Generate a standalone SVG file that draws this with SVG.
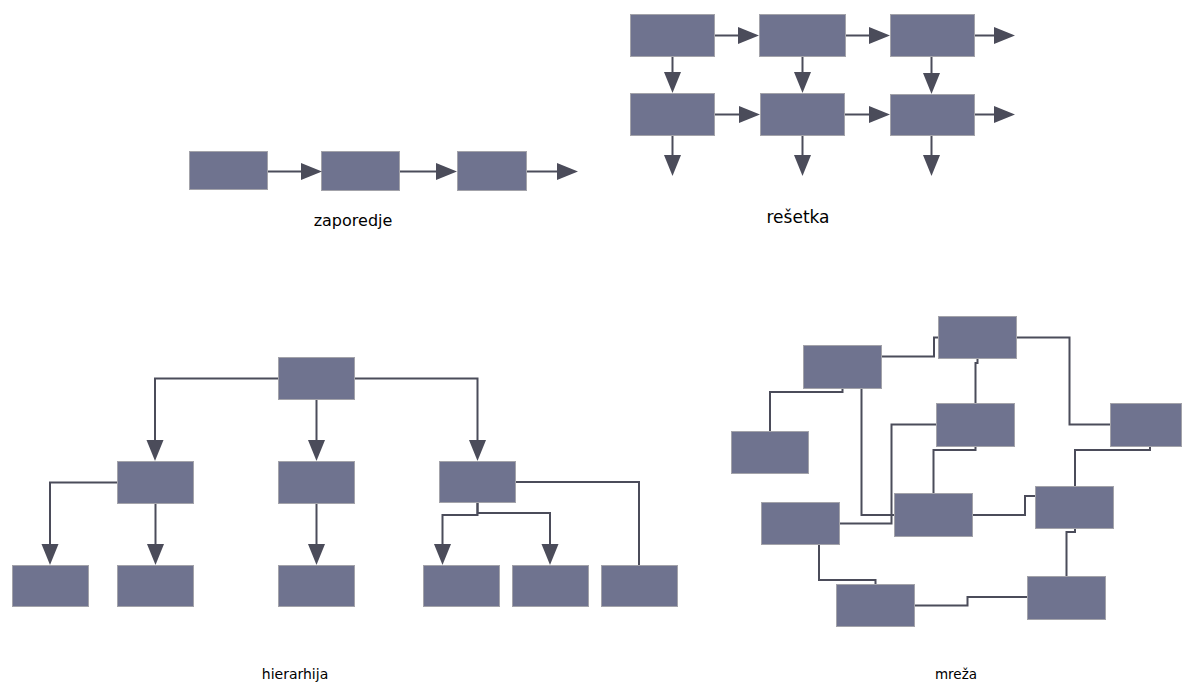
<svg xmlns="http://www.w3.org/2000/svg" width="1182" height="682" viewBox="0 0 1182 682">
  <style>
    .box { fill: #6f738f; stroke: #a3a3aa; stroke-width: 1; }
    .link { fill: none; stroke: #4b4c5a; stroke-width: 2; }
    .arrow { marker-end: url(#head); }
    .label { font-family: "DejaVu Sans", Verdana, sans-serif; fill: #000; text-anchor: middle; }
  </style>
  <defs>
    <marker id="head" markerUnits="userSpaceOnUse" markerWidth="22" markerHeight="18" refX="0" refY="8.5" orient="auto" viewBox="0 0 22 18">
      <path d="M0,0 L21,8.5 L0,17 z" fill="#4b4c5a"/>
    </marker>
  </defs>
  <rect width="1182" height="682" fill="#ffffff"/>

  <!-- zaporedje (sequence) -->
  <g id="seq-1"><rect class="box" x="189.5" y="151.5" width="78" height="38"/></g>
  <g id="seq-2"><rect class="box" x="321.5" y="151.5" width="78" height="39"/></g>
  <g id="seq-3"><rect class="box" x="457.5" y="151.5" width="69" height="39"/></g>

  <!-- rešetka (grid) -->
  <g id="grid-a1"><rect class="box" x="630.5" y="14.5" width="84" height="42"/></g>
  <g id="grid-b1"><rect class="box" x="759.5" y="14.5" width="86" height="42"/></g>
  <g id="grid-c1"><rect class="box" x="890.5" y="14.5" width="84" height="42"/></g>
  <g id="grid-a2"><rect class="box" x="630.5" y="93.5" width="84" height="42"/></g>
  <g id="grid-b2"><rect class="box" x="760.5" y="93.5" width="84" height="42"/></g>
  <g id="grid-c2"><rect class="box" x="890.5" y="94.5" width="84" height="41"/></g>

  <!-- hierarhija (hierarchy) -->
  <g id="h-root"><rect class="box" x="278.5" y="357.5" width="76" height="42"/></g>
  <g id="h-l2-1"><rect class="box" x="117.5" y="461.5" width="76" height="42"/></g>
  <g id="h-l2-2"><rect class="box" x="278.5" y="461.5" width="76" height="42"/></g>
  <g id="h-l2-3"><rect class="box" x="439.5" y="461.5" width="76" height="41"/></g>
  <g id="h-l3-1"><rect class="box" x="12.5" y="565.5" width="76" height="41"/></g>
  <g id="h-l3-2"><rect class="box" x="117.5" y="565.5" width="76" height="41"/></g>
  <g id="h-l3-3"><rect class="box" x="278.5" y="565.5" width="76" height="41"/></g>
  <g id="h-l3-4"><rect class="box" x="423.5" y="565.5" width="76" height="41"/></g>
  <g id="h-l3-5"><rect class="box" x="512.5" y="565.5" width="76" height="41"/></g>
  <g id="h-l3-6"><rect class="box" x="601.5" y="565.5" width="76" height="41"/></g>

  <!-- mreža (network) -->
  <g id="n-top"><rect class="box" x="938.5" y="316.5" width="78" height="42"/></g>
  <g id="n-upleft"><rect class="box" x="803.5" y="345.5" width="78" height="43"/></g>
  <g id="n-left"><rect class="box" x="731.5" y="431.5" width="77" height="42"/></g>
  <g id="n-mid"><rect class="box" x="936.5" y="403.5" width="78" height="43"/></g>
  <g id="n-right"><rect class="box" x="1110.5" y="403.5" width="71" height="43"/></g>
  <g id="n-lowleft"><rect class="box" x="761.5" y="502.5" width="78" height="42"/></g>
  <g id="n-lowmid"><rect class="box" x="894.5" y="493.5" width="78" height="43"/></g>
  <g id="n-lowright"><rect class="box" x="1035.5" y="486.5" width="78" height="42"/></g>
  <g id="n-bottom"><rect class="box" x="836.5" y="584.5" width="78" height="42"/></g>
  <g id="n-botright"><rect class="box" x="1027.5" y="576.5" width="78" height="43"/></g>

  <g id="connectors">
    <!-- sequence -->
    <path class="link arrow" d="M268 171.5 H301"/>
    <path class="link arrow" d="M400 171.5 H436"/>
    <path class="link arrow" d="M527 171.5 H557"/>

    <!-- grid rows -->
    <path class="link arrow" d="M715 35.5 H738"/>
    <path class="link arrow" d="M846 35.5 H869"/>
    <path class="link arrow" d="M975 35.5 H994"/>
    <path class="link arrow" d="M715 114.5 H739"/>
    <path class="link arrow" d="M845 114.5 H869"/>
    <path class="link arrow" d="M975 114.5 H994"/>
    <!-- grid columns -->
    <path class="link arrow" d="M672.5 57 V72"/>
    <path class="link arrow" d="M802.5 57 V72"/>
    <path class="link arrow" d="M931.5 57 V73"/>
    <path class="link arrow" d="M672.5 136 V155"/>
    <path class="link arrow" d="M802.5 136 V155"/>
    <path class="link arrow" d="M931.5 136 V155"/>

    <!-- hierarchy -->
    <path class="link arrow" d="M278 378.5 H155 V440"/>
    <path class="link arrow" d="M316.5 400 V440"/>
    <path class="link arrow" d="M355 378.5 H477.5 V440"/>
    <path class="link arrow" d="M117 482.5 H50 V544"/>
    <path class="link arrow" d="M155.5 504 V544"/>
    <path class="link arrow" d="M316.5 504 V544"/>
    <path class="link arrow" d="M477.5 503 V515 H442.5 V544"/>
    <path class="link arrow" d="M477.5 503 V513 H550 V544"/>
    <path class="link" d="M516 482 H639 V565"/>

    <!-- network -->
    <path class="link" d="M882 356.5 H934 V337.5 H938"/>
    <path class="link" d="M1017 337.5 H1069.5 V424.5 H1110"/>
    <path class="link" d="M977.5 359 V363 H975.5 V403"/>
    <path class="link" d="M842.5 389 V392 H770 V431"/>
    <path class="link" d="M861.5 389 V515 H894"/>
    <path class="link" d="M936 424.5 H891.5 V523.5 H840"/>
    <path class="link" d="M975.5 447 V450 H933.5 V493"/>
    <path class="link" d="M1150 447 V450 H1075 V486"/>
    <path class="link" d="M973 515 H1025 V496 H1035"/>
    <path class="link" d="M1075 529 V532 H1066.5 V576"/>
    <path class="link" d="M819 545 V580 H875.5 V584"/>
    <path class="link" d="M915 605.5 H967.5 V597 H1027"/>
  </g>

  <text class="label" x="353" y="226" font-size="16">zaporedje</text>
  <text class="label" x="798" y="222.5" font-size="17">rešetka</text>
  <text class="label" x="295" y="679" font-size="14">hierarhija</text>
  <text class="label" x="956" y="679" font-size="13.5">mreža</text>
</svg>
